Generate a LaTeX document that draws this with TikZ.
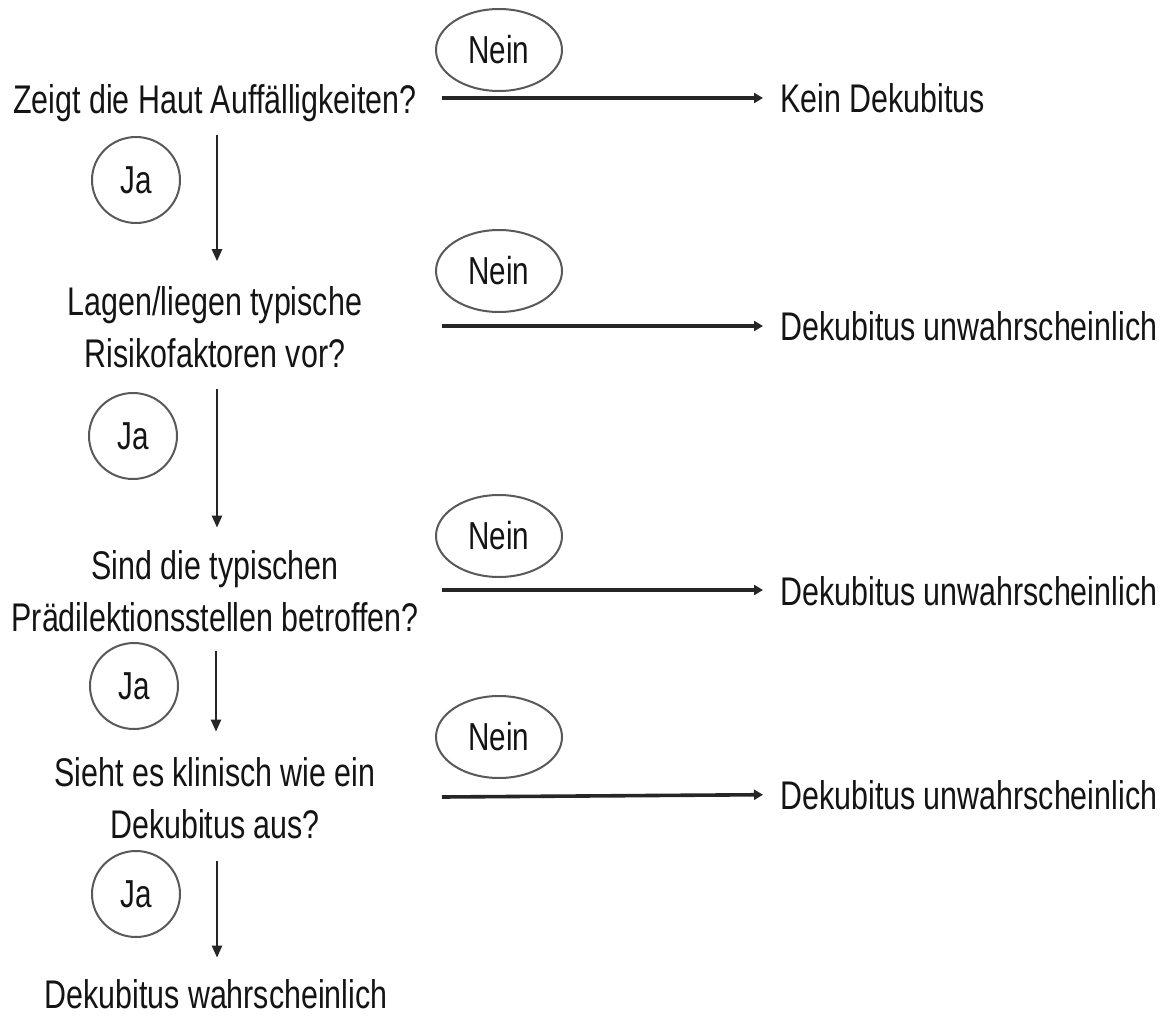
\documentclass[tikz,border=0pt]{standalone}
\usepackage{fontspec}
\setmainfont[FakeStretch=0.76]{Liberation Sans}
\usetikzlibrary{arrows.meta,shapes.geometric}
\begin{document}
\begin{tikzpicture}[x=0.5pt,y=-0.5pt,
  txt/.style={font=\fontsize{20}{26}\selectfont, inner sep=0pt, text=black!92, align=center},
  nein/.style={ellipse, draw=black!65, line width=1pt, minimum width=63pt, minimum height=41pt, inner sep=0pt, font=\fontsize{19.5}{22}\selectfont, text=black!92},
  ja/.style={nein, minimum width=44pt, minimum height=43pt},
  harr/.style={draw=black!85, line width=1.8pt, -{Triangle[length=4.5pt,width=5pt]}},
  varr/.style={draw=black!85, line width=1.2pt, -{Triangle[length=6pt,width=5pt]}},
]
\fill[white] (0,0) rectangle (1168,1017);
\useasboundingbox (0,0) rectangle (1168,1017);

% questions (base anchor = baseline of the last line)
\node[txt, anchor=base] (q1) at (215,113) {Zeigt die Haut Auffälligkeiten?};
\node[txt, anchor=base] (q2) at (215,367) {Lagen/liegen typische\\Risikofaktoren vor?};
\node[txt, anchor=base] (q3) at (215,631) {Sind die typischen\\Prädilektionsstellen betroffen?};
\node[txt, anchor=base] (q4) at (215,838) {Sieht es klinisch wie ein\\Dekubitus aus?};
\node[txt, anchor=base] (fin) at (216,1008) {Dekubitus wahrscheinlich};

% outcomes
\node[txt, anchor=base west] (r1) at (780,112) {Kein Dekubitus};
\node[txt, anchor=base west] (r2) at (780,340) {Dekubitus unwahrscheinlich};
\node[txt, anchor=base west] (r3) at (780,605) {Dekubitus unwahrscheinlich};
\node[txt, anchor=base west] (r4) at (780,809) {Dekubitus unwahrscheinlich};

% labels
\node[nein] (n1) at (499,50) {Nein};
\node[nein] (n2) at (499,271) {Nein};
\node[nein] (n3) at (499,536) {Nein};
\node[nein] (n4) at (499,737) {Nein};
\node[ja] (j1) at (136,180) {Ja};
\node[ja] (j2) at (133,436) {Ja};
\node[ja] (j3) at (134,686) {Ja};
\node[ja] (j4) at (136,894) {Ja};

% horizontal connectors
\coordinate (s1) at (442,98);
\coordinate (s2) at (442,326);
\coordinate (s3) at (442,590);
\coordinate (s4) at (442,797);
\draw[harr] (s1) -- ([xshift=-8.5pt]s1 -| r1.west);
\draw[harr] (s2) -- ([xshift=-8.5pt]s2 -| r2.west);
\draw[harr] (s3) -- ([xshift=-8.5pt]s3 -| r3.west);
\draw[harr] (s4) -- ([xshift=-8.5pt]r4.west);

% vertical connectors
\draw[varr] ([xshift=1pt,yshift=-6.8pt]q1.south) -- ([xshift=1pt,yshift=12.2pt]q2.north);
\draw[varr] ([xshift=1pt,yshift=-10.5pt]q2.south) -- ([xshift=1pt,yshift=11pt]q3.north);
\draw[varr] ([xshift=0.5pt,yshift=-9.5pt]q3.south) -- ([xshift=0.5pt,yshift=12.5pt]q4.north);
\draw[varr] ([xshift=1pt,yshift=-11pt]q4.south) -- ([xshift=0.5pt,yshift=10.5pt]fin.north);
\end{tikzpicture}
\end{document}
